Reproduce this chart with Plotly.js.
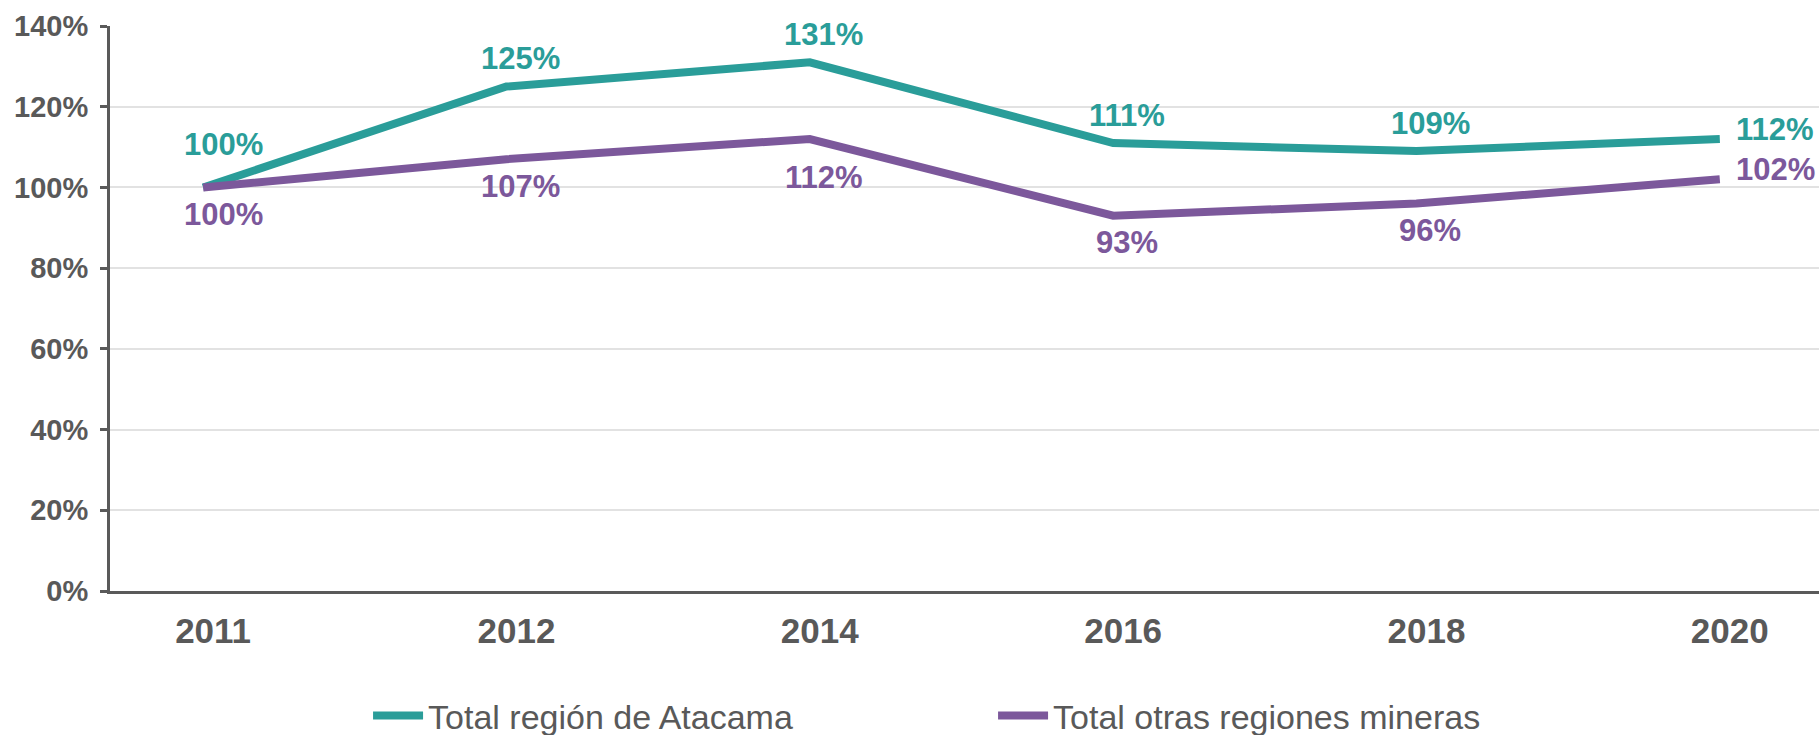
<!DOCTYPE html>
<html>
<head>
<meta charset="utf-8">
<script src="https://cdn.plot.ly/plotly-3.0.1.min.js"></script>
<style>html,body{margin:0;padding:0;background:#fff;}#chart{width:1819px;height:735px;}</style>
</head>
<body>
<div id="chart"></div>
<script>
const years = ['2011', '2012', '2014', '2016', '2018', '2020'];
const atacama = [100, 125, 131, 111, 109, 112];
const otras = [100, 107, 112, 93, 96, 102];
const seriesNames = ['Total región de Atacama', 'Total otras regiones mineras'];
const yTicks = [0, 20, 40, 60, 80, 100, 120, 140];

const TEAL = '#2a9d99';
const PURPLE = '#7c589b';
const GREY = '#595959';
const FONT = '"Liberation Sans", Arial, sans-serif';

const traces = [
  {x: years, y: atacama, name: seriesNames[0], mode: 'lines', type: 'scatter',
   line: {color: TEAL, width: 8}, cliponaxis: false, hoverinfo: 'skip'},
  {x: years, y: otras, name: seriesNames[1], mode: 'lines', type: 'scatter',
   line: {color: PURPLE, width: 8}, cliponaxis: false, hoverinfo: 'skip'}
];

const annotations = [];
const last = years.length - 1;
function lab(i, val, color, opts) {
  return Object.assign({x: i, y: val, xref: 'x', yref: 'y', text: val + '%', showarrow: false,
    yanchor: 'middle', font: {family: FONT, size: 31, color: color, weight: 'bold'}}, opts);
}
years.forEach((yr, i) => {
  if (i === last) {
    annotations.push(lab(i, atacama[i], TEAL, {xanchor: 'left', xshift: 14, yshift: 10}));
    annotations.push(lab(i, otras[i], PURPLE, {xanchor: 'left', xshift: 14, yshift: 10}));
  } else {
    annotations.push(lab(i, atacama[i], TEAL, {xanchor: 'center', xshift: i === 0 ? 20 : 14, yshift: i === 0 ? 43 : 28}));
    annotations.push(lab(i, otras[i], PURPLE, {xanchor: 'center', xshift: i === 0 ? 20 : 14, yshift: i === 2 ? -38 : -27}));
  }
});

const layout = {
  width: 1819, height: 735,
  margin: {l: 110, r: 0, t: 26, b: 144, pad: 0, autoexpand: false},
  paper_bgcolor: '#ffffff', plot_bgcolor: '#ffffff',
  font: {family: FONT, color: GREY},
  showlegend: true,
  legend: {orientation: 'h', x: 0.151, xanchor: 'left', y: -0.221, yanchor: 'middle',
    entrywidth: 560, entrywidthmode: 'pixels', itemwidth: 50,
    font: {family: FONT, size: 34, color: GREY}},
  xaxis: {type: 'category', range: [-0.307, 5.327], showgrid: false, zeroline: false,
    showline: true, linecolor: '#5a5a5a', linewidth: 3, ticks: '',
    tickfont: {family: FONT, size: 35, color: GREY, weight: 'bold'},
    ticklabelstandoff: 7, ticklabelshift: 10, fixedrange: true},
  yaxis: {range: [0, 140], tickvals: yTicks, ticktext: yTicks.map(v => v + '%'),
    showgrid: true, gridcolor: '#e2e2e2', gridwidth: 2, zeroline: false,
    showline: true, linecolor: '#5a5a5a', linewidth: 3,
    ticks: 'outside', ticklen: 7, tickwidth: 3, tickcolor: '#5a5a5a',
    tickfont: {family: FONT, size: 29, color: GREY, weight: 'bold'},
    ticklabelstandoff: 6, fixedrange: true},
  annotations: annotations
};

Plotly.newPlot('chart', traces, layout, {staticPlot: true, displayModeBar: false});
</script>
</body>
</html>
